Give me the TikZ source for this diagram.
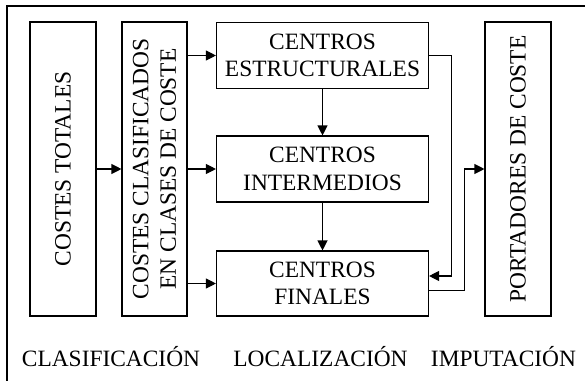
\documentclass[tikz,border=0pt]{standalone}
\usepackage{fontspec}
\setmainfont{Liberation Serif}
\usetikzlibrary{arrows.meta,positioning,calc}

\begin{document}
\begin{tikzpicture}[x=1pt, y=-1pt,
    font=\fontsize{23.4}{27.6}\selectfont,
    caja/.style={draw, line width=1.1pt, inner sep=0pt, align=center},
    flecha/.style={-{Triangle[length=10pt,width=10pt]}, line width=1.1pt}]
    \useasboundingbox (0,0) rectangle (585,380);
    % Marco exterior
    \draw[line width=1.3pt] (7,6) rectangle (620,420);

    % Columnas verticales
    \node[caja, rotate=90, minimum width=294, minimum height=66] (ctot) at (63,169) {COSTES TOTALES};
    \node[caja, rotate=90, minimum width=294, minimum height=65] (ccla) at (154.5,169) {COSTES CLASIFICADOS\\EN CLASES DE COSTE};
    \node[caja, rotate=90, minimum width=294, minimum height=66] (port) at (518,169) {PORTADORES DE COSTE};

    % Centros
    \node[caja, minimum width=212, minimum height=66] (estr) at (322.5,55.5) {CENTROS\\ESTRUCTURALES};
    \node[caja, minimum width=212, minimum height=66] (inter) at (322.5,169) {CENTROS\\INTERMEDIOS};
    \node[caja, minimum width=212, minimum height=65] (fin) at (322.5,283.5) {CENTROS\\FINALES};

    % Fases
    \node[anchor=base] (clas) at (111,366.5) {CLASIFICACIÓN};
    \node[anchor=base] (loca) at (320.5,366.5) {LOCALIZACIÓN};
    \node[anchor=base] (impu) at (503.5,366.5) {IMPUTACIÓN};

    % Flechas
    \draw[flecha] (ctot) -- (ccla);
    \draw[flecha] (ccla.south |- estr.west) -- (estr.west);
    \draw[flecha] (ccla.south |- inter.west) -- (inter.west);
    \draw[flecha] (ccla.south |- fin.west) -- (fin.west);
    \draw[flecha] (estr) -- (inter);
    \draw[flecha] (inter) -- (fin);
    \draw[flecha] (estr.east) -- ++(22,0) |- ($(fin.east)+(0,-7.5)$);
    \draw[flecha] ($(fin.east)+(0,7)$) -- ++(35,0) |- (port.north);
\end{tikzpicture}
\end{document}
